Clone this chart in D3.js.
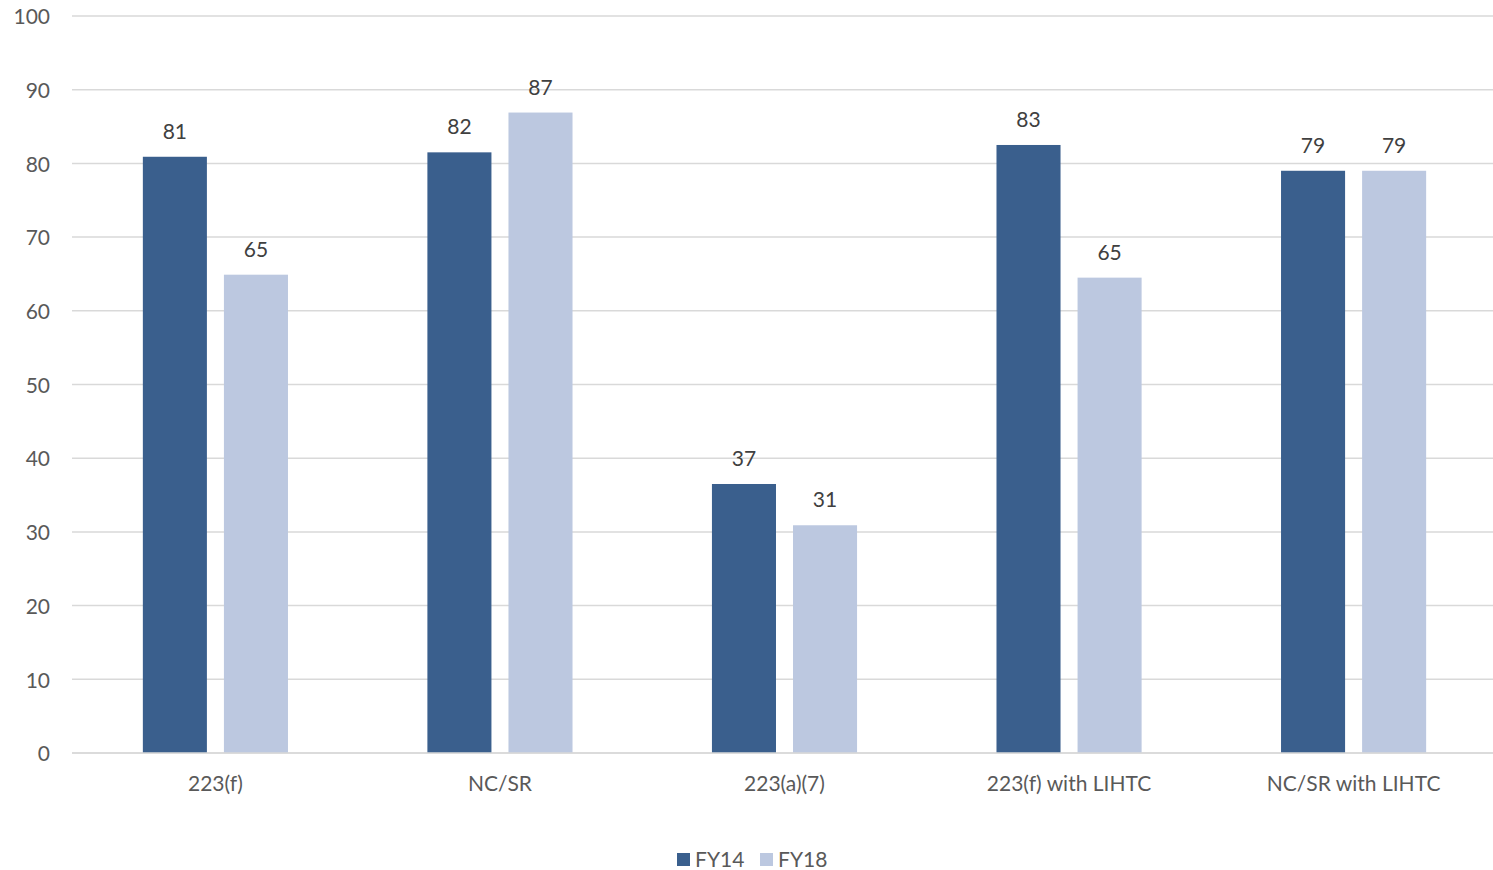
<!DOCTYPE html>
<html>
<head>
<meta charset="utf-8">
<script src="https://cdn.jsdelivr.net/npm/d3@7"></script>
<style>
  body { margin: 0; background: #fff; }
  text { font-family: Lato, "Noto Sans", sans-serif; }
</style>
</head>
<body>
<script>
// categories and series
var categories = ["223(f)", "NC/SR", "223(a)(7)", "223(f) with LIHTC", "NC/SR with LIHTC"];
var series = ["FY14", "FY18"];
var fy14 = [80.9, 81.5, 36.5, 82.5, 79.0];
var fy18 = [64.9, 86.9, 30.9, 64.5, 79.0];
var yTicks = [0, 10, 20, 30, 40, 50, 60, 70, 80, 90, 100];
var colors = ["#3a5f8d", "#bcc8e0"];

var width = 1493;
var height = 870;

var padLeft = 72;
var padRight = 1497;
var padTop = 16;
var padBottom = 753;
var fontSize = 21;

var rows = categories.map(function(c, i){
  return { cat: c, values: [fy14[i], fy18[i]] };
});

var svg = d3.select("body")
            .append("svg")
            .attr("width", width)
            .attr("height", height);

var x0 = d3.scaleBand()
           .domain(categories)
           .range([padLeft, padRight])
           .paddingInner(0.49)
           .paddingOuter(0.249);

var x1 = d3.scaleBand()
           .domain(series)
           .range([0, x0.bandwidth()])
           .paddingInner(0.21);

var yScale = d3.scaleLinear()
               .domain([0, 100])
               .range([padBottom, padTop]);

// gridlines
svg.append("g")
   .selectAll("line")
   .data(yTicks)
   .enter()
   .append("line")
   .attr("x1", padLeft)
   .attr("x2", width)
   .attr("y1", function(d){ return yScale(d); })
   .attr("y2", function(d){ return yScale(d); })
   .attr("stroke", "#d9d9d9")
   .attr("stroke-width", 1.5);

// y tick labels
var yAxis = d3.axisLeft(yScale)
              .tickValues(yTicks)
              .tickSize(0)
              .tickPadding(22);

svg.append("g")
   .attr("transform", "translate(" + padLeft + ",1)")
   .call(yAxis)
   .call(function(g){ g.select(".domain").remove(); })
   .selectAll("text")
   .attr("font-size", fontSize)
   .attr("fill", "#595959")
   .style("font-family", "Lato, 'Noto Sans', sans-serif");

// bars
var groups = svg.selectAll(".grp")
   .data(rows)
   .enter()
   .append("g")
   .attr("class", "grp")
   .attr("transform", function(d){ return "translate(" + x0(d.cat) + ",0)"; });

groups.selectAll("rect")
   .data(function(d){ return d.values.map(function(v, i){ return { s: series[i], v: v, i: i }; }); })
   .enter()
   .append("rect")
   .attr("x", function(d){ return x1(d.s); })
   .attr("y", function(d){ return yScale(d.v); })
   .attr("width", x1.bandwidth())
   .attr("height", function(d){ return padBottom - yScale(d.v); })
   .attr("fill", function(d){ return colors[d.i]; });

groups.selectAll(".lbl")
   .data(function(d){ return d.values.map(function(v, i){ return { s: series[i], v: v }; }); })
   .enter()
   .append("text")
   .attr("class", "lbl")
   .attr("x", function(d){ return x1(d.s) + x1.bandwidth() / 2; })
   .attr("y", function(d){ return yScale(d.v) - 18; })
   .attr("text-anchor", "middle")
   .attr("font-size", fontSize)
   .attr("fill", "#404040")
   .text(function(d){ return Math.round(d.v); });

// baseline
svg.append("line")
   .attr("x1", padLeft)
   .attr("x2", width)
   .attr("y1", padBottom)
   .attr("y2", padBottom)
   .attr("stroke", "#d9d9d9")
   .attr("stroke-width", 1.5);

// category labels
svg.append("g")
   .selectAll("text")
   .data(categories)
   .enter()
   .append("text")
   .attr("x", function(d){ return x0(d) + x0.bandwidth() / 2; })
   .attr("y", 791)
   .attr("text-anchor", "middle")
   .attr("font-size", fontSize)
   .attr("fill", "#595959")
   .text(function(d){ return d; });

// legend
var legendX = [677, 760];
var legend = svg.append("g")
   .selectAll("g")
   .data(series)
   .enter()
   .append("g")
   .attr("transform", function(d, i){ return "translate(" + legendX[i] + ",853)"; });

legend.append("rect")
   .attr("width", 13)
   .attr("height", 13)
   .attr("fill", function(d, i){ return colors[i]; });

legend.append("text")
   .attr("x", 18)
   .attr("y", 14)
   .attr("font-size", fontSize)
   .attr("fill", "#595959")
   .text(function(d){ return d; });
</script>
</body>
</html>
